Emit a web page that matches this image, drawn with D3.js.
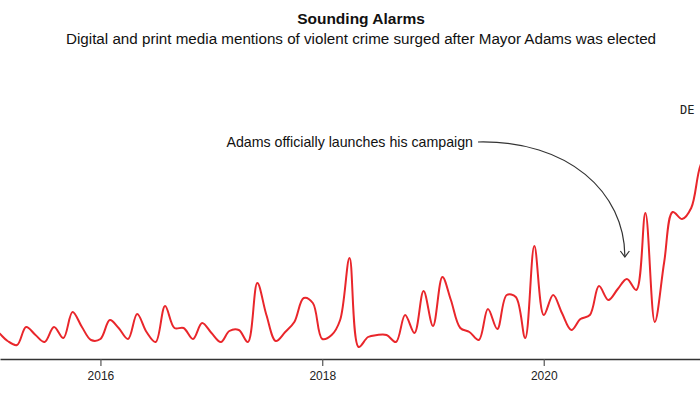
<!DOCTYPE html>
<html>
<head>
<meta charset="utf-8">
<script src="https://cdn.jsdelivr.net/npm/d3@7"></script>
<style>
  html, body { margin: 0; padding: 0; background: #fff; }
  svg { display: block; }
  .axis text { font-family: "Helvetica Neue", Helvetica, Arial, "Liberation Sans", sans-serif; font-size: 12px; fill: #222; }
</style>
</head>
<body>
<svg id="chart" width="700" height="394"></svg>
<script>
// Monthly media mentions index, starting January 2015
const startMonth = new Date(2015, 0, 1);
const mentions = [
  34, 26, 18, 14, 32, 24, 17, 32, 21, 47, 32, 19,   // 2015
  20, 39, 31, 20, 45, 27, 17, 53, 31, 31, 20, 36,   // 2016
  26, 17, 28, 29, 17, 76, 44, 18, 27, 37, 61, 56,   // 2017
  20, 24, 39, 101, 12, 22, 24, 24, 17, 44, 26, 68,  // 2018
  33, 82, 59, 31, 27, 19, 50, 30, 64, 62, 21, 113,  // 2019
  44, 64, 46, 29, 40, 44, 73, 59, 70, 80, 69, 146,  // 2020
  37, 97, 147, 140, 151, 194, 209                   // 2021
];
const tickYears = [2016, 2018, 2020];

const title = "Sounding Alarms";
const subtitle = "Digital and print media mentions of violent crime surged after Mayor Adams was elected";
const note = { date: new Date(2020, 9, 1), label: "Adams officially launches his campaign" };

const data = mentions.map((v, i) => ({
  date: d3.timeMonth.offset(startMonth, i),
  value: v
}));

const width = 700, height = 394;
const svg = d3.select("#chart");
const font = '"Helvetica Neue", Helvetica, Arial, "Liberation Sans", sans-serif';

const x = d3.scaleTime()
  .domain([new Date(2015, 1, 4), new Date(2021, 4, 30)])
  .range([0, width]);

const y = d3.scaleLinear()
  .domain([0, 200])
  .range([359, 159]);

// Titles
svg.append("text")
  .attr("x", 361).attr("y", 24)
  .attr("text-anchor", "middle")
  .attr("font-family", font)
  .attr("font-size", 15.5)
  .attr("font-weight", "bold")
  .attr("fill", "#111")
  .text(title);

svg.append("text")
  .attr("x", 361).attr("y", 44)
  .attr("text-anchor", "middle")
  .attr("font-family", font)
  .attr("font-size", 15.2)
  .attr("fill", "#111")
  .text(subtitle);

// cut-off label at the right edge
svg.append("text")
  .attr("x", 680).attr("y", 114)
  .attr("font-family", '"DejaVu Sans Mono", monospace')
  .attr("font-size", 12)
  .attr("fill", "#222")
  .text("DE");

// Axis
const axis = svg.append("g")
  .attr("class", "axis")
  .attr("transform", `translate(0,${y(0)})`)
  .call(d3.axisBottom(x)
    .tickValues(tickYears.map(yr => new Date(yr, 0, 1)))
    .tickFormat(d3.timeFormat("%Y"))
    .tickSizeInner(7)
    .tickSizeOuter(0)
    .tickPadding(5));

axis.select(".domain")
  .attr("stroke", "#333")
  .attr("stroke-width", 1.5);
axis.selectAll(".tick line")
  .attr("stroke", "#555")
  .attr("stroke-width", 1.2);

// Line
const line = d3.line()
  .x(d => x(d.date))
  .y(d => y(d.value))
  .curve(d3.curveCatmullRom.alpha(0.5));

svg.append("path")
  .datum(data)
  .attr("fill", "none")
  .attr("stroke", "#e9262b")
  .attr("stroke-width", 2)
  .attr("stroke-linejoin", "round")
  .attr("d", line);

// Annotation
const tipX = x(note.date) - 2;
const tipY = y(102);
const startX = 478, startY = 142;

svg.append("text")
  .attr("x", startX - 5).attr("y", startY + 5)
  .attr("text-anchor", "end")
  .attr("font-family", font)
  .attr("font-size", 14.2)
  .attr("fill", "#111")
  .text(note.label);

svg.append("path")
  .attr("fill", "none")
  .attr("stroke", "#333")
  .attr("stroke-width", 1.2)
  .attr("d", `M${startX},${startY} C${startX + 90},${startY - 2} ${tipX},${startY + 50} ${tipX},${tipY}`);

svg.append("path")
  .attr("fill", "none")
  .attr("stroke", "#333")
  .attr("stroke-width", 1.2)
  .attr("d", `M${tipX - 4.5},${tipY - 6} L${tipX},${tipY} L${tipX + 4.5},${tipY - 6}`);
</script>
</body>
</html>
